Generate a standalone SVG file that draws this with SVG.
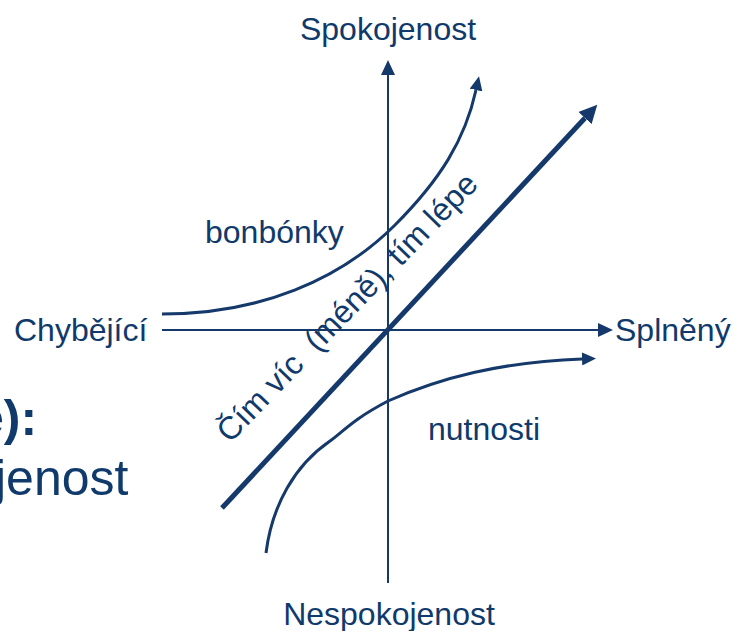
<svg xmlns="http://www.w3.org/2000/svg" width="734" height="631" viewBox="0 0 734 631">
  <style>
    .t { font-family: "Liberation Sans", Arial, sans-serif; font-size: 32px; fill: #0f3a6b; }
    .bg { font-family: "Liberation Sans", Arial, sans-serif; font-size: 50px; fill: #0f3a6b; }
    .ax { fill: none; stroke: #15396a; stroke-width: 2; }
    .cv { fill: none; stroke: #15396a; stroke-width: 3; }
    .dg { fill: none; stroke: #15396a; stroke-width: 5; }
    .ah { fill: #15396a; }
  </style>
  <defs>
    <marker id="aAx" markerUnits="userSpaceOnUse" viewBox="0 0 15 14" refX="0" refY="7" markerWidth="15" markerHeight="14" orient="auto">
      <path class="ah" d="M0,0 L15,7 L0,14 z"/>
    </marker>
    <marker id="aCv" markerUnits="userSpaceOnUse" viewBox="0 0 14 13" refX="0" refY="6.5" markerWidth="14" markerHeight="13" orient="auto">
      <path class="ah" d="M0,0 L14,6.5 L0,13 z"/>
    </marker>
    <marker id="aDg" markerUnits="userSpaceOnUse" viewBox="0 0 18 18" refX="0" refY="9" markerWidth="18" markerHeight="18" orient="auto">
      <path class="ah" d="M0,0 L18,9 L0,18 z"/>
    </marker>
  </defs>

  <rect width="734" height="631" fill="#ffffff"/>

  <g id="background-text">
    <text class="bg" x="-24" y="435" font-weight="bold">e):</text>
    <text class="bg" x="-5" y="495">jenost</text>
  </g>

  <g id="connectors">
    <path id="axis-x" class="ax" d="M162,330 L598,330" marker-end="url(#aAx)"/>
    <path id="axis-y" class="ax" d="M388,583 L388,75" marker-end="url(#aAx)"/>
    <path id="curve-bonbonky" class="cv" d="M162,314 C260,314 340,280 395,225 C440,180 465,140 476,90" marker-end="url(#aCv)"/>
    <path id="curve-nutnosti" class="cv" d="M266,553 C272,505 295,465 330,441 C345,430 352,420 388,401 C440,378 500,362 582,359" marker-end="url(#aCv)"/>
    <path id="diagonal" class="dg" d="M222,508 L585,118" marker-end="url(#aDg)"/>
  </g>

  <g id="label-spokojenost"><text class="t" x="388" y="40" text-anchor="middle">Spokojenost</text></g>
  <g id="label-nespokojenost"><text class="t" x="389" y="625" text-anchor="middle">Nespokojenost</text></g>
  <g id="label-chybejici"><text class="t" x="14" y="341">Chybějící</text></g>
  <g id="label-splneny"><text class="t" x="615" y="341">Splněný</text></g>
  <g id="label-bonbonky"><text class="t" x="205" y="243">bonbónky</text></g>
  <g id="label-nutnosti"><text class="t" x="428" y="440">nutnosti</text></g>
  <g id="label-diagonal"><text class="t" x="230" y="444" font-size="34" style="white-space:pre" transform="rotate(-46 230 444)">Čím víc  (méně), tím lépe</text></g>
</svg>
